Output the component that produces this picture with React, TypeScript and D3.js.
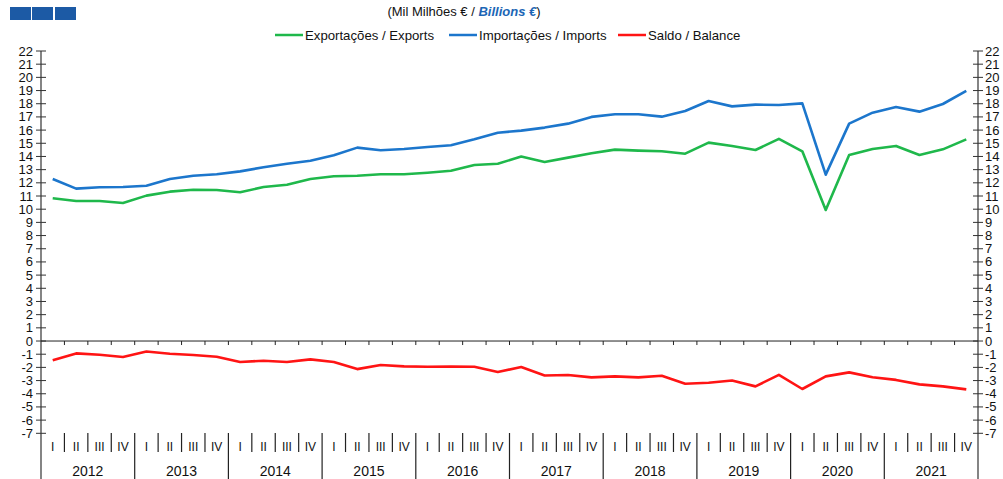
import React from 'react';
import * as d3 from 'd3';

const width = 1003;
const height = 479;
const margin = { top: 51, right: 25, bottom: 46, left: 41 };

const years = ['2012', '2013', '2014', '2015', '2016', '2017', '2018', '2019', '2020', '2021'];
const quarterNames = ['I', 'II', 'III', 'IV'];

// quarterly values, mil milhões €
const exportsData = [
  10.83, 10.62, 10.62, 10.47, 11.03, 11.33, 11.48, 11.46, 11.28, 11.68,
  11.86, 12.29, 12.5, 12.54, 12.65, 12.65, 12.77, 12.92, 13.35, 13.45,
  13.99, 13.58, 13.91, 14.24, 14.52, 14.44, 14.39, 14.21, 15.05, 14.8,
  14.49, 15.33, 14.39, 9.94, 14.11, 14.57, 14.8, 14.11, 14.54, 15.3,
];
const importsData = [
  12.29, 11.56, 11.66, 11.68, 11.78, 12.29, 12.54, 12.65, 12.87, 13.18,
  13.45, 13.68, 14.09, 14.67, 14.47, 14.57, 14.72, 14.85, 15.3, 15.8,
  15.96, 16.19, 16.49, 17.0, 17.2, 17.2, 17.02, 17.45, 18.21, 17.8,
  17.93, 17.9, 18.03, 12.62, 16.49, 17.32, 17.75, 17.4, 17.98, 18.97,
];
const balanceData = [
  -1.46, -0.94, -1.04, -1.21, -0.8, -0.96, -1.06, -1.19, -1.59, -1.5,
  -1.59, -1.39, -1.59, -2.13, -1.82, -1.92, -1.95, -1.93, -1.95, -2.35,
  -1.97, -2.61, -2.58, -2.76, -2.68, -2.76, -2.63, -3.24, -3.16, -3.0,
  -3.44, -2.57, -3.64, -2.68, -2.38, -2.75, -2.95, -3.29, -3.44, -3.67,
];
const yTicks = d3.range(-7, 23);

const series = [
  { name: 'Exportações / Exports', values: exportsData, color: '#1fb84b' },
  { name: 'Importações / Imports', values: importsData, color: '#1c76cc' },
  { name: 'Saldo / Balance', values: balanceData, color: '#ff1414' },
];

const quarters = years.flatMap(y => quarterNames.map(q => `${y}-${q}`));

const x = d3.scaleBand()
  .domain(quarters)
  .range([margin.left, width - margin.right]);

const y = d3.scaleLinear()
  .domain([-7, 22])
  .range([433.3, margin.top]);

const line = d3.line()
  .x((d, i) => x(quarters[i]) + x.bandwidth() / 2)
  .y(d => y(d));

const font = '"Liberation Sans", Arial, sans-serif';

export default function App() {
  const x0 = margin.left;
  const x1 = width - margin.right;
  const y0 = y(0);
  const catTop = 433;
  const legendItems = [
    { x: 275, ...series[0] },
    { x: 449, ...series[1] },
    { x: 618, ...series[2] },
  ];

  return (
    <svg width={width} height={height} style={{ position: 'absolute', left: 0, top: 0 }} fontFamily={font}>
      <rect width={width} height={height} fill="#fff" />
      {/* logo */}
      {[10, 32, 55].map(lx => (
        <rect key={lx} x={lx} y={7} width={21} height={13} fill="#1c5aa5" />
      ))}
      <text x={464} y={15.5} textAnchor="middle" fontSize={13} fill="#111">
        (Mil Milhões  € /{' '}
        <tspan fill="#1c66b5" fontStyle="italic" fontWeight="bold">Billions €</tspan>
        )
      </text>
      {legendItems.map(it => (
        <g key={it.name}>
          <line x1={it.x} x2={it.x + 28} y1={35} y2={35} stroke={it.color} strokeWidth={2.5} />
          <text x={it.x + 30} y={39.5} fontSize={13.2} fill="#111">{it.name}</text>
        </g>
      ))}

      {/* left axis */}
      <line x1={x0} x2={x0} y1={y(22)} y2={height} stroke="#333" strokeWidth={1.2} />
      {yTicks.map(t => (
        <g key={`l${t}`}>
          <line x1={x0 - 5} x2={x0 + 5} y1={y(t)} y2={y(t)} stroke="#333" />
          <text x={33} y={y(t) + 4.5} textAnchor="end" fontSize={13} fill="#111">{t}</text>
        </g>
      ))}
      {/* right axis */}
      <line x1={x1} x2={x1} y1={y(22)} y2={height} stroke="#333" strokeWidth={1.2} />
      {yTicks.map(t => (
        <g key={`r${t}`}>
          <line x1={x1 - 5} x2={x1 + 5} y1={y(t)} y2={y(t)} stroke="#333" />
          <text x={985} y={y(t) + 4.5} textAnchor="start" fontSize={13} fill="#111">{t}</text>
        </g>
      ))}

      {/* zero line with quarter ticks */}
      <line x1={x0} x2={x1} y1={y0} y2={y0} stroke="#222" />
      {quarters.slice(1).map(q => (
        <line key={`z${q}`} x1={x(q)} x2={x(q)} y1={y0} y2={y0 + 4} stroke="#222" />
      ))}

      {/* category axis */}
      {quarters.map((q, i) => {
        const qx = x(q);
        const isYear = i % 4 === 0;
        return (
          <g key={`c${q}`}>
            {i > 0 && (
              <line x1={qx} x2={qx} y1={catTop} y2={isYear ? height : 452} stroke="#222" strokeWidth={1.2} />
            )}
            <text x={qx + x.bandwidth() / 2} y={450.5} textAnchor="middle" fontSize={12} fill="#111">
              {quarterNames[i % 4]}
            </text>
          </g>
        );
      })}
      {years.map(yr => (
        <text key={yr} x={x(`${yr}-I`) + x.bandwidth() * 2} y={476} textAnchor="middle" fontSize={14} fill="#111">
          {yr}
        </text>
      ))}

      {series.map(s => (
        <path key={s.name} d={line(s.values)} fill="none" stroke={s.color} strokeWidth={2.6} strokeLinejoin="round" />
      ))}
    </svg>
  );
}
